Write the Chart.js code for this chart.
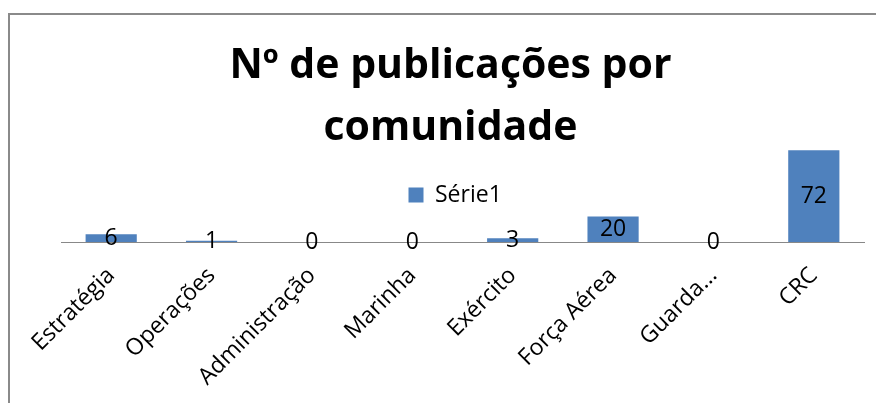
<!DOCTYPE html>
<html>
<head>
<meta charset="utf-8">
<script src="https://cdn.jsdelivr.net/npm/chart.js@4/dist/chart.umd.min.js"></script>
<style>
  html, body { margin: 0; padding: 0; background: #ffffff; }
  #wrap { position: relative; width: 876px; height: 403px; overflow: hidden; }
  #frame { position: absolute; left: 8px; top: 13px; width: 1000px; height: 600px;
           border-top: 2px solid #8a8a8a; border-left: 2px solid #8a8a8a; }
  #c { position: absolute; left: 0; top: 0; }
</style>
</head>
<body>
<div id="wrap">
  <div id="frame"></div>
  <canvas id="c" width="876" height="403"></canvas>
</div>
<script>
const titleLines = ['Nº de publicações por', 'comunidade'];
const categories = ['Estratégia', 'Operações', 'Administração', 'Marinha', 'Exército', 'Força Aérea', 'Guarda...', 'CRC'];
const seriesName = 'Série1';
const values = [6, 1, 0, 0, 3, 20, 0, 72];
const yMin = 0;
const yMax = 80;

const FONT = '"Open Sans", "DejaVu Sans", sans-serif';
const LEGEND_PAD = 10;

// value labels centred in each bar (Excel "Center" data labels)
const valueLabels = {
  id: 'valueLabels',
  afterDatasetsDraw(chart) {
    const ctx = chart.ctx;
    ctx.save();
    ctx.font = '23px ' + FONT;
    ctx.fillStyle = '#000000';
    ctx.textAlign = 'center';
    ctx.textBaseline = 'middle';
    chart.data.datasets.forEach((ds, di) => {
      const meta = chart.getDatasetMeta(di);
      meta.data.forEach((el, i) => {
        const y = (el.y + el.base) / 2;
        ctx.fillText(String(ds.data[i]), el.x, y);
      });
    });
    ctx.restore();
  }
};

// place the (overlaid) legend in the middle of the plot area
const legendPlacer = {
  id: 'legendPlacer',
  afterLayout(chart) {
    const lg = chart.legend;
    const ca = chart.chartArea;
    if (!lg || !ca) return;
    const cx = (ca.left + ca.right) / 2;
    const h = lg.height;
    lg.left = cx - 54 - LEGEND_PAD;
    lg.right = lg.left + lg.width;
    lg.top = ca.top + 43.5 - LEGEND_PAD;
    lg.bottom = lg.top + h;
  }
};

new Chart(document.getElementById('c'), {
  type: 'bar',
  data: {
    labels: categories,
    datasets: [{
      label: seriesName,
      data: values,
      backgroundColor: '#4F81BD',
      borderWidth: 0,
      categoryPercentage: 1.0,
      barPercentage: 0.51
    }]
  },
  options: {
    responsive: false,
    animation: false,
    devicePixelRatio: 1,
    layout: { padding: { left: 37, right: 12, top: 0, bottom: 0 } },
    plugins: {
      title: {
        display: true,
        text: titleLines,
        color: '#000000',
        font: { family: FONT, size: 41, weight: 'bold', lineHeight: 1.5 },
        padding: { top: 36, bottom: -19 }
      },
      legend: {
        display: true,
        position: 'chartArea',
        align: 'start',
        labels: {
          color: '#000000',
          font: { family: FONT, size: 23 },
          boxWidth: 15,
          boxHeight: 15,
          padding: LEGEND_PAD
        }
      },
      tooltip: { enabled: false }
    },
    scales: {
      x: {
        grid: { display: false },
        border: { display: true, color: '#888888', width: 1 },
        ticks: {
          color: '#000000',
          font: { family: FONT, size: 23 },
          minRotation: 45,
          maxRotation: 45,
          autoSkip: false,
          padding: 12
        },
        afterFit(s) { s.height = 161; }
      },
      y: {
        min: yMin,
        max: yMax,
        display: true,
        grid: { display: false },
        border: { display: false },
        ticks: { display: false },
        afterFit(s) { s.width = 24; }
      }
    }
  },
  plugins: [valueLabels, legendPlacer]
});
</script>
</body>
</html>
